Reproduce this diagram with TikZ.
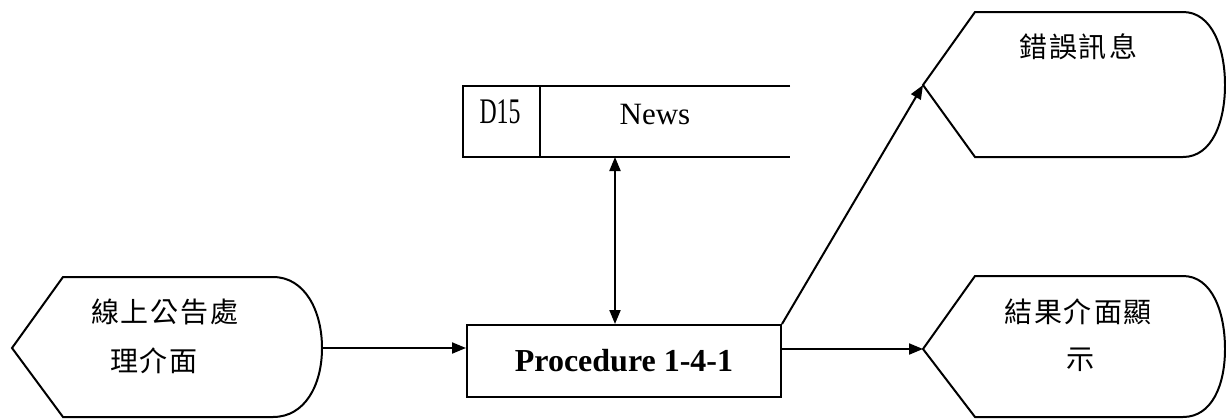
\documentclass[tikz,border=0pt]{standalone}
\usepackage{fontspec}
\setmainfont{Liberation Serif}
\newfontfamily\cjk{Noto Sans CJK TC}
\usetikzlibrary{arrows.meta}
\newcommand{\ck}{\kern2pt}
\tikzset{
  ln/.style={line width=2pt},
  arr/.style={ln,-{Triangle[length=14pt,width=11pt]}},
  darr/.style={ln,{Triangle[length=14pt,width=11pt]}-{Triangle[length=14pt,width=11pt]}},
  cjktxt/.style={font=\cjk\fontsize{28}{32}\selectfont, inner sep=0pt},
  lattxt/.style={font=\fontsize{31}{34}\selectfont, inner sep=0pt},
  procbox/.style={draw, ln, rectangle, minimum width=314pt, minimum height=72pt, inner sep=0pt,
    font=\bfseries\fontsize{32}{36}\selectfont}
}
\begin{document}
\begin{tikzpicture}[x=1pt,y=-1pt]
\useasboundingbox (0,0) rectangle (1226,418);
% left display shape
\draw[ln] (273,277) -- (63,277) -- (12,348) -- (63,417) -- (273,417)
  .. controls (305,417) and (322,385) .. (322,348)
  .. controls (322,311) and (305,277) .. (273,277);
\coordinate (inR) at (322,348);
\node[cjktxt] (in1) at (165,312) {線\ck 上\ck 公\ck 告\ck 處};
\node[cjktxt] (in2) at (154,361) {理\ck 介\ck 面};
% error shape
\draw[ln] (1183,12) -- (975,12) -- (923,85) -- (975,157) -- (1183,157)
  .. controls (1212,157) and (1225,122) .. (1225,85)
  .. controls (1225,48) and (1212,12) .. (1183,12);
\coordinate (errL) at (923,85);
\node[cjktxt] (err) at (1078,47) {錯\ck 誤\ck 訊\ck 息};
% result shape
\draw[ln] (1183,276) -- (975,276) -- (923,349) -- (975,417) -- (1183,417)
  .. controls (1212,417) and (1225,385) .. (1225,349)
  .. controls (1225,312) and (1212,276) .. (1183,276);
\coordinate (resL) at (923,349);
\node[cjktxt] (res1) at (1078,312) {結\ck 果\ck 介\ck 面\ck 顯};
\node[cjktxt] (res2) at (1080,360) {示};
% data store
\draw[ln] (790,86) -- (463,86) -- (463,157) -- (790,157);
\draw[ln] (540,86) -- (540,157);
\node[inner sep=0pt] (d15) at (500,112) {\scalebox{0.66}[1]{\fontsize{36}{40}\selectfont D15}};
\node[lattxt] (news) at (655,114) {News};
\coordinate (storeB) at (615,157);
% procedure
\node[procbox] (proc) at (624,361) {Procedure 1-4-1};
% connectors
\draw[arr] (inR) -- (inR -| proc.west);
\draw[arr] (proc.east |- resL) -- (resL);
\draw[darr] (storeB) -- (proc.north -| storeB);
\draw[arr] (proc.north east) -- (errL);
\end{tikzpicture}
\end{document}
